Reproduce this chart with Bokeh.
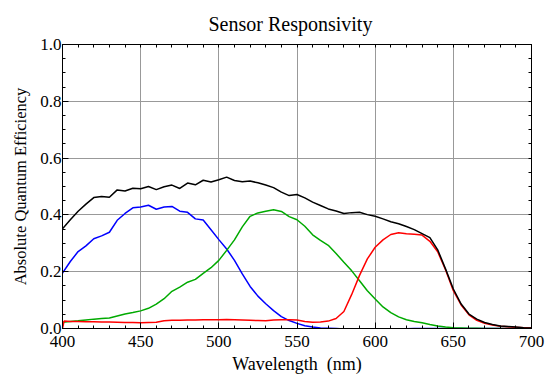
from bokeh.plotting import figure
from bokeh.models import Range1d, SingleIntervalTicker, FixedTicker, LinearAxis, NumeralTickFormatter
from bokeh.embed import file_html
from bokeh.resources import INLINE

# ---- data ----
wavelength = list(range(400, 705, 5))

total = [0.351, 0.383, 0.413, 0.438, 0.461, 0.465, 0.462, 0.488, 0.484, 0.494,
         0.492, 0.500, 0.489, 0.499, 0.505, 0.493, 0.512, 0.506, 0.522, 0.516,
         0.524, 0.533, 0.521, 0.517, 0.519, 0.513, 0.505, 0.496, 0.480, 0.468,
         0.472, 0.460, 0.445, 0.433, 0.421, 0.414, 0.405, 0.408, 0.409, 0.401,
         0.395, 0.386, 0.376, 0.369, 0.359, 0.348, 0.334, 0.320, 0.277, 0.210,
         0.139, 0.086, 0.051, 0.033, 0.021, 0.014, 0.009, 0.007, 0.005, 0.003,
         0.002]

blue = [0.195, 0.236, 0.271, 0.291, 0.316, 0.326, 0.339, 0.381, 0.405, 0.425,
        0.428, 0.434, 0.420, 0.428, 0.430, 0.413, 0.409, 0.386, 0.382, 0.348,
        0.313, 0.280, 0.240, 0.192, 0.148, 0.114, 0.087, 0.063, 0.042, 0.028,
        0.018, 0.010, 0.005, 0.002, 0.001, 0.000, -0.002, -0.003, -0.003, -0.003,
        -0.003, -0.003, -0.003, -0.003, -0.001, 0.000, 0.000, 0.000, 0.000, 0.000,
        0.000, 0.000, 0.000, 0.000, 0.000, 0.000, 0.000, 0.000, 0.000, 0.000,
        0.000]

green = [0.022, 0.025, 0.027, 0.030, 0.033, 0.035, 0.037, 0.044, 0.051, 0.056,
         0.062, 0.071, 0.086, 0.105, 0.131, 0.146, 0.163, 0.173, 0.194, 0.214,
         0.240, 0.275, 0.312, 0.358, 0.395, 0.407, 0.413, 0.418, 0.412, 0.394,
         0.383, 0.360, 0.330, 0.310, 0.293, 0.264, 0.233, 0.203, 0.168, 0.133,
         0.104, 0.076, 0.056, 0.041, 0.031, 0.025, 0.020, 0.014, 0.009, 0.005,
         0.003, 0.002, 0.001, 0.001, 0.000, 0.000, 0.000, 0.000, 0.000, 0.000,
         0.000]

red_wavelength = [400, 401] + list(range(405, 705, 5))
red = [0.000, 0.026, 0.025, 0.025, 0.024, 0.024, 0.023, 0.023, 0.022, 0.021,
       0.021, 0.020, 0.021, 0.022, 0.027, 0.029, 0.029, 0.030, 0.030, 0.031,
       0.031, 0.031, 0.032, 0.031, 0.030, 0.029, 0.028, 0.027, 0.030, 0.031,
       0.031, 0.030, 0.025, 0.022, 0.023, 0.026, 0.035, 0.060, 0.120, 0.187,
       0.245, 0.286, 0.312, 0.331, 0.337, 0.334, 0.332, 0.329, 0.307, 0.270,
       0.207, 0.133, 0.083, 0.048, 0.029, 0.018, 0.012, 0.008, 0.006, 0.004,
       0.003, 0.002]

x_start, x_end, x_major, x_minor_n = 400, 700, 50, 5
y_start, y_end, y_major, y_minor_n = 0.0, 1.0, 0.2, 4

FONT = "Liberation Serif"

p = figure(width=549, height=380, output_backend="svg", toolbar_location=None,
           x_range=Range1d(x_start, x_end), y_range=Range1d(y_start, y_end),
           min_border_left=62, min_border_right=18, min_border_top=44,
           min_border_bottom=52, background_fill_color="white",
           border_fill_color="white")

p.title.text = "Sensor Responsivity"
p.title.align = "left"
p.title.offset = 146
p.title.text_font = FONT
p.title.text_font_size = "20px"
p.title.text_font_style = "normal"
p.title.text_color = "black"
p.title.standoff = 20

p.outline_line_color = "black"
p.outline_line_width = 1


def style_axis(ax, ticker):
    ax.ticker = ticker
    ax.axis_line_color = "black"
    ax.major_tick_in = 6
    ax.major_tick_out = 0
    ax.minor_tick_in = 3
    ax.minor_tick_out = 0
    ax.major_tick_line_color = "black"
    ax.minor_tick_line_color = "black"
    ax.major_label_text_font = FONT
    ax.major_label_text_font_size = "17px"
    ax.major_label_text_color = "black"
    ax.axis_label_text_font = FONT
    ax.axis_label_text_font_style = "normal"
    ax.axis_label_text_color = "black"


xt = SingleIntervalTicker(interval=x_major, num_minor_ticks=x_minor_n)
yt = SingleIntervalTicker(interval=y_major, num_minor_ticks=y_minor_n)

style_axis(p.xaxis[0], xt)
p.xaxis[0].axis_label = "Wavelength\u00a0 (nm)"
p.xaxis[0].axis_label_text_font_size = "18px"
p.xaxis[0].major_label_standoff = 7
p.xaxis[0].axis_label_standoff = 4

style_axis(p.yaxis[0], yt)
p.yaxis[0].axis_label = "Absolute Quantum Efficiency"
p.yaxis[0].axis_label_text_font_size = "16.5px"
p.yaxis[0].formatter = NumeralTickFormatter(format="0.0")
p.yaxis[0].major_label_standoff = 1
p.yaxis[0].axis_label_standoff = 7

# frame ticks on the right and top (minor ticks only, no labels)
x_step = x_major / x_minor_n
y_step = y_major / y_minor_n
x_minor = [x_start + i * x_step for i in range(int(round((x_end - x_start) / x_step)) + 1)]
y_minor = [round(y_start + i * y_step, 4) for i in range(int(round((y_end - y_start) / y_step)) + 1)]


def frame_axis(ticks):
    ax = LinearAxis(ticker=FixedTicker(ticks=[], minor_ticks=ticks))
    ax.axis_line_color = "black"
    ax.minor_tick_in = 3
    ax.minor_tick_out = 0
    ax.major_tick_in = 0
    ax.major_tick_out = 0
    ax.major_label_standoff = 0
    ax.axis_label_standoff = 0
    return ax


p.add_layout(frame_axis(y_minor), "right")
p.add_layout(frame_axis(x_minor), "above")

p.xgrid.ticker = xt
p.ygrid.ticker = yt
p.xgrid.grid_line_color = "#999999"
p.ygrid.grid_line_color = "#999999"
p.xgrid.grid_line_width = 1
p.ygrid.grid_line_width = 1

LW = 1.5
p.line(wavelength, blue, line_color="#0000ff", line_width=LW)
p.line(wavelength, green, line_color="#00aa00", line_width=LW)
p.line(red_wavelength, red, line_color="#ff0000", line_width=LW)
p.line(wavelength, total, line_color="black", line_width=LW)

open("out.html", "w").write(file_html(p, INLINE))
